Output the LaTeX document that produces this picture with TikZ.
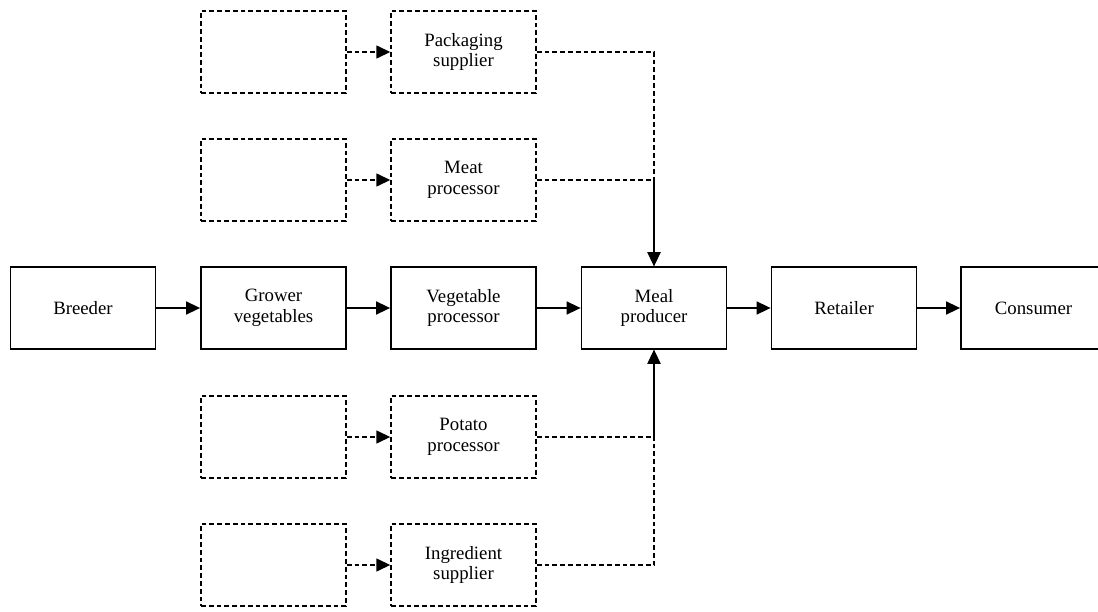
\documentclass[tikz,border=0pt]{standalone}
\usepackage{fontspec}
\setmainfont{Liberation Serif}
\usetikzlibrary{arrows.meta}
\begin{document}
\begin{tikzpicture}[x=0.5pt,y=-0.5pt,
  font=\fontsize{9.4}{10.3}\selectfont,
  stage/.style={draw, line width=0.9pt, minimum width=72.5pt, minimum height=41pt,
    align=center, inner sep=0pt},
  side/.style={stage, line width=0.7pt, dash pattern=on 2.4pt off 1.5pt},
  flow/.style={line width=0.8pt, -{Triangle[length=7pt,width=6.5pt]}},
  sideflow/.style={line width=0.7pt, dash pattern=on 2.4pt off 1.5pt,
    -{Triangle[length=7pt,width=6.5pt]}}]
\useasboundingbox (0,0) rectangle (1098,611);
\clip (0,0) rectangle (1098,611);

% main chain
\node[stage] (breeder)  at (83,308)    {Breeder};
\node[stage] (grower)   at (273.5,308) {Grower\\vegetables};
\node[stage] (vegproc)  at (463.5,308) {Vegetable\\processor};
\node[stage] (meal)     at (654,308)   {Meal\\producer};
\node[stage] (retailer) at (844,308)   {Retailer};
\node[stage] (consumer) at (1033.5,308){Consumer};

% supplier branches
\node[side] (up1) at (273.5,52)  {};
\node[side] (pack) at (463.5,52) {Packaging\\supplier};
\node[side] (up2) at (273.5,180) {};
\node[side] (meat) at (463.5,180) {Meat\\processor};
\node[side] (up3) at (273.5,437) {};
\node[side] (potato) at (463.5,437) {Potato\\processor};
\node[side] (up4) at (273.5,565) {};
\node[side] (ingr) at (463.5,565) {Ingredient\\supplier};

\draw[flow] (breeder) -- (grower);
\draw[flow] (grower) -- (vegproc);
\draw[flow] (vegproc) -- (meal);
\draw[flow] (meal) -- (retailer);
\draw[flow] (retailer) -- (consumer);

\draw[sideflow] (up1) -- (pack);
\draw[sideflow] (up2) -- (meat);
\draw[sideflow] (up3) -- (potato);
\draw[sideflow] (up4) -- (ingr);

\draw[sideflow] (pack.east) -| (meal.north);
\draw[sideflow] (meat.east) -| (meal.north);
\draw[sideflow] (potato.east) -| (meal.south);
\draw[sideflow] (ingr.east) -| (meal.south);
\end{tikzpicture}
\end{document}
